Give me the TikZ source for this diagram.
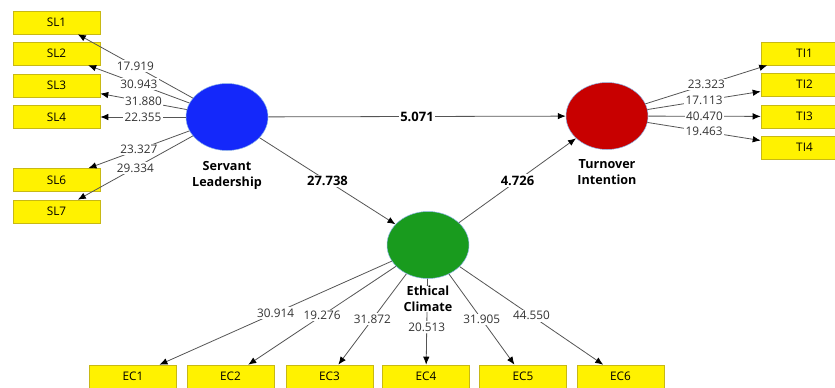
\documentclass[tikz,border=0pt]{standalone}
\usepackage{fontspec}
\setmainfont{Open Sans}
\usetikzlibrary{arrows.meta,positioning,shapes.geometric}
\definecolor{lvblue}{RGB}{20,40,250}
\definecolor{lvred}{RGB}{200,0,0}
\definecolor{lvgreen}{RGB}{25,155,30}
\definecolor{lvrim}{RGB}{140,180,230}
\definecolor{mvrim}{RGB}{200,185,20}
\definecolor{pathgray}{RGB}{85,85,85}

\begin{document}
\begin{tikzpicture}[x=1pt,y=-1pt,
  font=\fontsize{11.8}{16}\selectfont,
  latent/.style={ellipse,draw=lvrim,line width=0.5pt,minimum width=82pt,minimum height=67pt,inner sep=0pt},
  indicator/.style={rectangle,fill=yellow,draw=mvrim,line width=0.6pt,minimum width=87pt,minimum height=23pt,inner sep=0pt},
  lvname/.style={align=center,font=\fontsize{12.6}{16}\selectfont\bfseries,inner sep=1pt},
  link/.style={draw=pathgray,line width=0.8pt,-{Latex[length=8pt,width=6.5pt,color=black]}},
  tval/.style={fill=white,inner sep=1.5pt,text=black!80},
  bval/.style={fill=white,inner sep=1.5pt,font=\fontsize{13}{16}\selectfont\bfseries}]
\useasboundingbox (0,0) rectangle (835,388);

% constructs
\node[latent,fill=lvblue] (sl) at (227,117) {};
\node[latent,fill=lvred] (ti) at (607,116) {};
\node[latent,fill=lvgreen] (ec) at (428,245) {};

% servant leadership items
\node[indicator] (sl1) at (56.5,22.5) {SL1};
\node[indicator] (sl2) at (56.5,53.5) {SL2};
\node[indicator] (sl3) at (56.5,85.5) {SL3};
\node[indicator] (sl4) at (56.5,117) {SL4};
\node[indicator] (sl6) at (56.5,180) {SL6};
\node[indicator] (sl7) at (56.5,211.5) {SL7};

% turnover intention items
\node[indicator] (ti1) at (804.5,53.5) {TI1};
\node[indicator] (ti2) at (804.5,84.5) {TI2};
\node[indicator] (ti3) at (804.5,116.5) {TI3};
\node[indicator] (ti4) at (804.5,147.5) {TI4};

% ethical climate items
\node[indicator] (ec1) at (133,376.5) {EC1};
\node[indicator] (ec2) at (230.5,376.5) {EC2};
\node[indicator] (ec3) at (329.5,376.5) {EC3};
\node[indicator] (ec4) at (426,376.5) {EC4};
\node[indicator] (ec5) at (523,376.5) {EC5};
\node[indicator] (ec6) at (620.5,376.5) {EC6};

\draw[link] (sl) -- node[tval] {17.919} (sl1);
\draw[link] (sl) -- node[tval] {30.943} (sl2);
\draw[link] (sl) -- node[tval] {31.880} (sl3);
\draw[link] (sl) -- node[tval] {22.355} (sl4);
\draw[link] (sl) -- node[tval] {23.327} (sl6);
\draw[link] (sl) -- node[tval] {29.334} (sl7);

\draw[link] (ti) -- node[tval] {23.323} (ti1);
\draw[link] (ti) -- node[tval] {17.113} (ti2);
\draw[link] (ti) -- node[tval] {40.470} (ti3);
\draw[link] (ti) -- node[tval] {19.463} (ti4);

\draw[link] (ec) -- node[tval] {30.914} (ec1);
\draw[link] (ec) -- node[tval] {19.276} (ec2);
\draw[link] (ec) -- node[tval] {31.872} (ec3);
\draw[link] (ec) -- node[tval,pos=0.56] {20.513} (ec4);
\draw[link] (ec) -- node[tval] {31.905} (ec5);
\draw[link] (ec) -- node[tval] {44.550} (ec6);

% structural paths
\draw[link] (sl) -- node[bval] {5.071} (ti);
\draw[link] (sl) -- node[bval] {27.738} (ec);
\draw[link] (ec) -- node[bval] {4.726} (ti);

\node[lvname,below=9pt of sl] (slname) {Servant\\Leadership};
\node[lvname,below=9pt of ti] (tiname) {Turnover\\Intention};
\node[lvname,fill=white,inner sep=0pt,below=7pt of ec] (ecname) {Ethical\\Climate};
\end{tikzpicture}
\end{document}
